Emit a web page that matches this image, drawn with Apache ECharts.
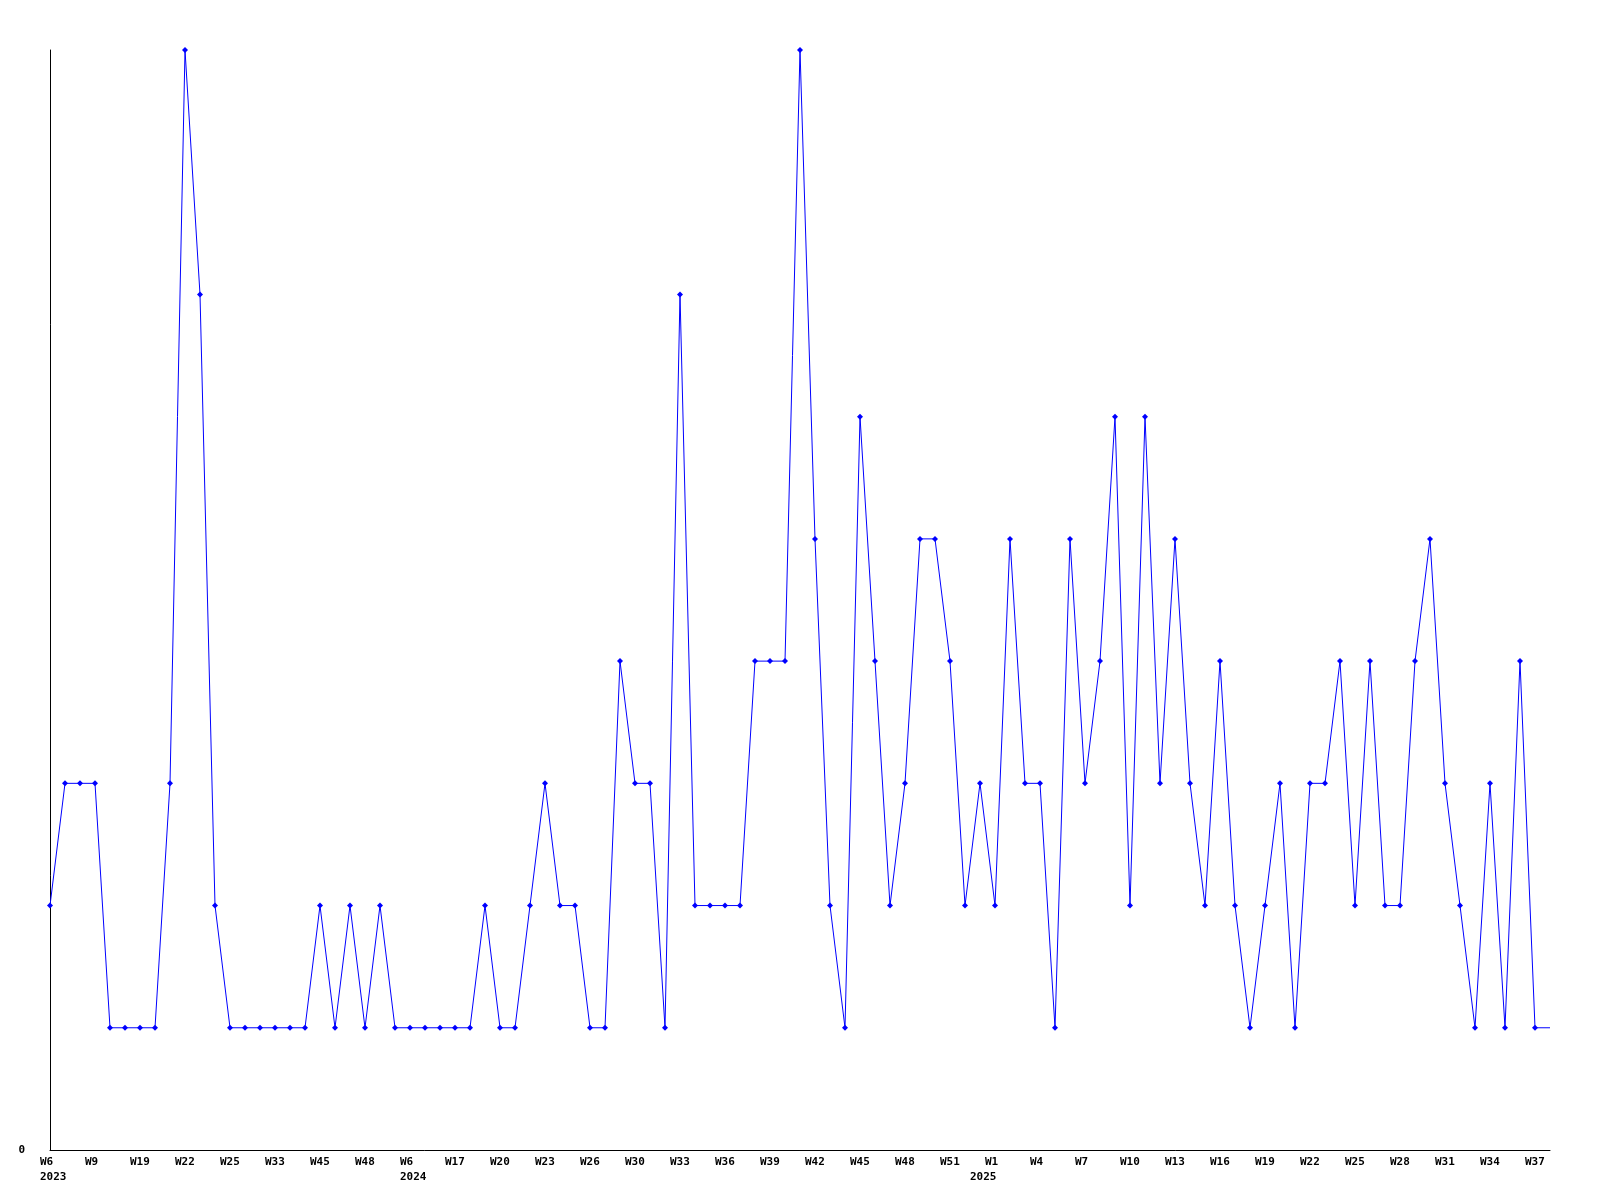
<!DOCTYPE html>
<html>
<head>
<meta charset="utf-8">
<script src="https://cdn.jsdelivr.net/npm/echarts@6/dist/echarts.min.js"></script>
<style>
html,body{margin:0;padding:0;background:#fff;}
#chart{width:1600px;height:1200px;}
</style>
</head>
<body>
<div id="chart"></div>
<script>
// Week categories (2023, 2024, 2025 segments)
const weeks2023 = ['W6','W7','W8','W9','W11','W15','W19','W20','W21','W22','W23','W24','W25','W28','W30','W33','W37','W41','W45','W46','W47','W48','W50','W52'];
const weeks2024 = ['W6','W9','W13','W17','W18','W19','W20','W21','W22','W23','W24','W25','W26','W27','W29','W30','W31','W32','W33','W34','W35','W36','W37','W38','W39','W40','W41','W42','W43','W44','W45','W46','W47','W48','W49','W50','W51','W52','W53'];
const weeks2025 = ['W1','W2','W3','W4','W5','W6','W7','W8','W9','W10','W11','W12','W13','W14','W15','W16','W17','W18','W19','W20','W21','W22','W23','W24','W25','W26','W27','W28','W29','W30','W31','W32','W33','W34','W35','W36','W37','W38'];
const categories = weeks2023.concat(weeks2024, weeks2025);

// Year tick labels (shown under the week labels)
const yearTickPositions = {0: '2023', 24: '2024', 62: '2025'};
const yearTicks = categories.map((c, i) => yearTickPositions[i] || '');

// Series values
const values = [
  2,3,3,3,1,1,1,1,3,9,
  7,2,1,1,1,1,1,1,2,1,
  2,1,2,1,1,1,1,1,1,2,
  1,1,2,3,2,2,1,1,4,3,
  3,1,7,2,2,2,2,4,4,4,
  9,5,2,1,6,4,2,3,5,5,
  4,2,3,2,5,3,3,1,5,3,
  4,6,2,6,3,5,3,2,4,2,
  1,2,3,1,3,3,4,2,4,2,
  2,4,5,3,2,1,3,1,4,1,
  1
];

const yMin = 0, yMax = 9;

const chart = echarts.init(document.getElementById('chart'), null, {renderer: 'canvas'});
const font = {fontFamily: 'DejaVu Sans Mono', fontWeight: 'bold', fontSize: 11, color: '#000'};
const seriesData = values.map((v, i) => i === values.length - 1 ? {value: v, symbol: 'none'} : v);

chart.setOption({
  animation: false,
  backgroundColor: '#fff',
  grid: {left: 50, right: 50, top: 50, bottom: 50, containLabel: false},
  xAxis: [{
    type: 'category',
    data: categories,
    boundaryGap: false,
    position: 'bottom',
    axisLine: {show: true, lineStyle: {color: '#000', width: 1}},
    axisTick: {show: false},
    splitLine: {show: false},
    axisLabel: {
      interval: 2,
      margin: 6,
      align: 'center',
      formatter: v => '{a|' + v + '}',
      rich: {a: Object.assign({width: 20, align: 'left', lineHeight: 12}, font)}
    }
  }, {
    type: 'category',
    data: yearTicks,
    boundaryGap: false,
    position: 'bottom',
    axisLine: {show: false},
    axisTick: {show: false},
    splitLine: {show: false},
    axisLabel: {
      interval: 0,
      margin: 21,
      align: 'center',
      formatter: v => v ? '{a|' + v + '}' : '',
      rich: {a: Object.assign({width: 20, align: 'left', lineHeight: 12}, font)}
    }
  }],
  yAxis: {
    type: 'value',
    min: yMin,
    max: yMax,
    interval: 9,
    axisLine: {show: true, lineStyle: {color: '#000', width: 1}},
    axisTick: {show: false},
    splitLine: {show: false},
    axisLabel: Object.assign({margin: 25, formatter: v => v === 0 ? '0' : ''}, font)
  },
  series: [{
    type: 'line',
    data: seriesData,
    xAxisIndex: 0,
    symbol: 'diamond',
    symbolSize: 6,
    showAllSymbol: true,
    lineStyle: {color: '#0000ff', width: 1},
    itemStyle: {color: '#0000ff'},
    emphasis: {disabled: true}
  }]
});
</script>
</body>
</html>
